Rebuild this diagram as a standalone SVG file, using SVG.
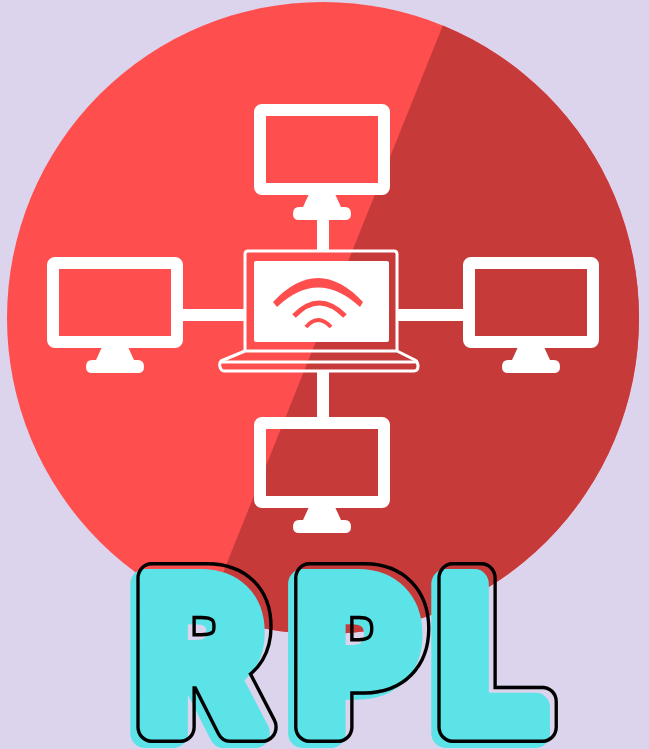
<svg xmlns="http://www.w3.org/2000/svg" xmlns:xlink="http://www.w3.org/1999/xlink" width="649" height="749" viewBox="0 0 649 749">
<style>
.w{fill:#fff}
.c{stroke:#fff;stroke-width:12;fill:none}
.scr{fill:none;stroke:#fff;stroke-width:12;stroke-linejoin:round}
.wifi{fill:none;stroke:#fe4e4e;stroke-linecap:butt}
.rpl{font-family:"Inter","DejaVu Sans",sans-serif;font-weight:700;font-size:205px;stroke-linejoin:round}
.soft{filter:url(#b)}
</style>
<defs>
<filter id="b" x="-5%" y="-5%" width="110%" height="110%"><feGaussianBlur stdDeviation="0.6"/></filter>
<clipPath id="cc"><circle cx="323" cy="318" r="316"/></clipPath>
<g id="mon">
<rect class="scr" x="6" y="6" width="124" height="79" rx="2"/>
<path class="w" d="M55 90H81L87 103H91Q97 103 97 110Q97 116 91 116H45Q39 116 39 110Q39 103 45 103H49Z"/>
</g>
<text id="t" class="rpl" y="727" transform="scale(.95 1)"><tspan x="146">R</tspan><tspan x="312">P</tspan><tspan x="463">L</tspan></text>
<mask id="ol" maskUnits="userSpaceOnUse" x="0" y="500" width="649" height="249">
<use xlink:href="#t" href="#t" fill="#fff" stroke="#fff" stroke-width="32"/>
<use xlink:href="#t" href="#t" fill="#000" stroke="#000" stroke-width="25"/>
</mask>
</defs>
<rect width="649" height="749" fill="#dcd3ec"/>
<g id="badge">
<circle cx="323" cy="318" r="316" fill="#fe4e4e"/>
<path clip-path="url(#cc)" d="M443 25L443 -10H660V660H188Z" fill="#c73a3a"/>
</g>
<g id="connectors" class="soft">
<path class="c" d="M323 218V252M183 315H245M398 315H464M323 370V418"/>
</g>
<g id="monitor-top" class="soft"><use xlink:href="#mon" href="#mon" x="254" y="104"/></g>
<g id="monitor-left" class="soft"><use xlink:href="#mon" href="#mon" x="47" y="257"/></g>
<g id="monitor-right" class="soft"><use xlink:href="#mon" href="#mon" x="463" y="257"/></g>
<g id="monitor-bottom" class="soft"><use xlink:href="#mon" href="#mon" x="254" y="417"/></g>
<g id="laptop" class="soft">
<path d="M245 351V254Q245 251 248 251H394Q397 251 397 254V351" fill="none" stroke="#fff" stroke-width="3"/>
<rect class="w" x="254" y="261" width="135" height="81" rx="2"/>
<path d="M245 351L221 361Q219 363 220 367Q221 371 224 371H414Q418 371 418 366Q418 362 415 360L397 351Z" fill="none" stroke="#fff" stroke-width="3" stroke-linejoin="round"/>
<path d="M220 362H418" stroke="#fff" stroke-width="3"/>
<path d="M273 302Q318 254 363 302L360 307Q318 268 277 307Z" fill="#fe4e4e"/>
<path class="wifi" stroke-width="5" d="M294 316Q319 290 345 316"/>
<path class="wifi" stroke-width="4" d="M306 327Q318 313 331 327"/>
</g>
<g id="title">
<g transform="translate(-7 6)"><use xlink:href="#t" href="#t" fill="#5ce3e8" stroke="#5ce3e8" stroke-width="30"/></g>
<rect x="0" y="500" width="649" height="249" fill="#000" mask="url(#ol)"/>
</g>
</svg>
